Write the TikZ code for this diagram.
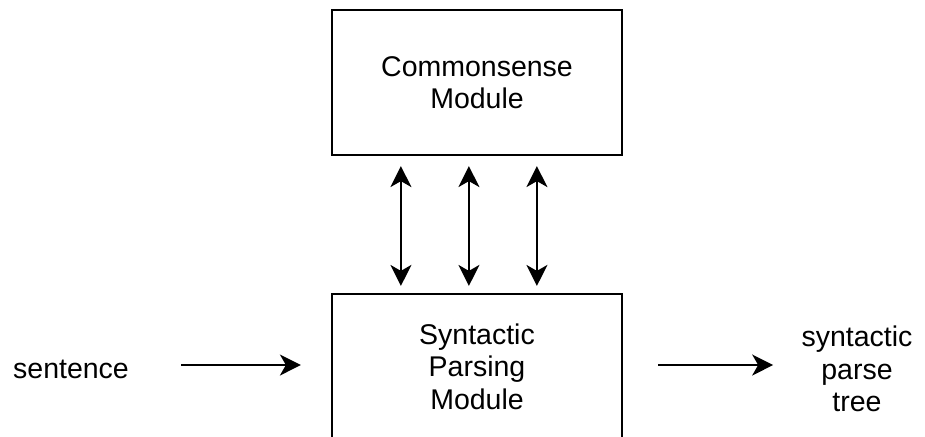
\documentclass[tikz,border=0pt]{standalone}
\usepackage{fontspec}
\setmainfont{Liberation Sans}
\usetikzlibrary{arrows.meta,calc}
\tikzset{
  modbox/.style={draw=black, line width=1.1pt, minimum width=145pt, minimum height=72.5pt, inner sep=0pt},
  lbl/.style={font=\fontsize{14.25pt}{16.3pt}\selectfont, align=center, inner sep=0pt},
  tip/.style={Stealth[length=10.5pt,width=10.5pt,inset=3pt]},
  conn/.style={line width=0.95pt, -{Stealth[length=10.5pt,width=10.5pt,inset=3pt]}},
  biconn/.style={line width=0.95pt, {Stealth[length=10.5pt,width=10.5pt,inset=3pt]}-{Stealth[length=10.5pt,width=10.5pt,inset=3pt]}}
}
\begin{document}
\begin{tikzpicture}[x=0.5pt,y=-0.5pt]
\useasboundingbox (0,0) rectangle (925,436);
\clip (0,0) rectangle (925,436);
\node[modbox, lbl] (cs) at (477,82.5) {Commonsense\\Module};
\node[modbox, lbl] (sp) at (477,366.5) {Syntactic\\Parsing\\Module};
\node[lbl] (sent) at (71,369) {sentence};
\node[lbl] (tree) at (857,369) {syntactic\\parse\\tree};
\foreach \dx in {70,138,206} {
  \draw[biconn, shorten <=5pt, shorten >=3.5pt] ($(cs.south west)+(\dx,0)$) -- ($(sp.north west)+(\dx,0)$);
}
\draw[conn, shorten >=15pt] ($(sent.east)+(52,-4)$) -- ($(sp.west)+(0,-1.5)$);
\draw[conn, shorten <=17.5pt] ($(sp.east)+(0,-1.5)$) -- ($(tree.west)+(-28,-4)$);
\end{tikzpicture}
\end{document}
